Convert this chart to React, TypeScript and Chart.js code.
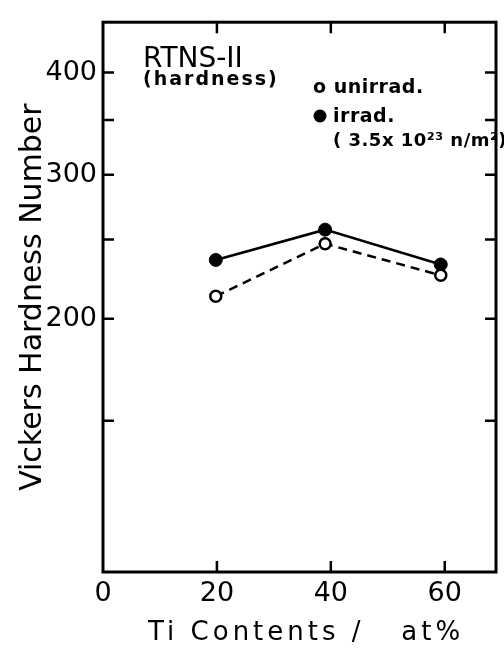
import { useEffect, useRef } from 'react';
import { Chart, registerables } from 'chart.js';

Chart.register(...registerables);

// Ti content (at%) of the samples
const xValues = [19.8, 39.0, 59.3];
// Vickers hardness, unirradiated (open circles)
const unirradiated = [213, 247, 226];
// Vickers hardness, irradiated 3.5x10^23 n/m^2 (filled circles)
const irradiated = [236, 257, 233];

const xTicks = [0, 20, 40, 60];
const yTicks = [150, 200, 250, 300, 350, 400];
const yLabelled = [200, 300, 400];

const X_MIN = 0;
const X_MAX = 69;
const Y_MIN = 98;
const Y_MAX = 461;

const FONT = "'DejaVu Sans', 'Noto Sans', sans-serif";

const framePlugin = {
  id: 'frame',
  beforeDatasetsDraw(chart: any) {
    const { ctx, chartArea: a, scales } = chart;
    ctx.save();
    ctx.strokeStyle = '#000';
    ctx.lineWidth = 3;
    ctx.strokeRect(a.left, a.top, a.right - a.left, a.bottom - a.top);
    ctx.lineWidth = 2.5;
    const len = 11;
    ctx.beginPath();
    for (const v of yTicks) {
      const y = scales.y.getPixelForValue(v);
      ctx.moveTo(a.left, y);
      ctx.lineTo(a.left + len, y);
      ctx.moveTo(a.right, y);
      ctx.lineTo(a.right - len, y);
    }
    for (const v of xTicks) {
      if (v === X_MIN) continue;
      const x = scales.x.getPixelForValue(v);
      ctx.moveTo(x, a.top);
      ctx.lineTo(x, a.top + len);
      ctx.moveTo(x, a.bottom);
      ctx.lineTo(x, a.bottom - len);
    }
    ctx.stroke();
    ctx.restore();
  },
  afterDraw(chart: any) {
    const { ctx } = chart;
    ctx.save();
    ctx.fillStyle = '#000';
    ctx.textAlign = 'left';
    ctx.textBaseline = 'alphabetic';

    // x-axis title
    ctx.font = `26px ${FONT}`;
    (ctx as any).letterSpacing = '4px';
    ctx.fillText('Ti Contents /   at%', 148, 640);

    // annotation
    (ctx as any).letterSpacing = '0px';
    ctx.font = `28px ${FONT}`;
    ctx.fillText('RTNS-II', 143, 67);
    ctx.font = `bold 19px ${FONT}`;
    (ctx as any).letterSpacing = '2px';
    ctx.fillText('(hardness)', 143, 85);
    (ctx as any).letterSpacing = '0.5px';
    ctx.fillText('o unirrad.', 313, 93);
    ctx.fillText('irrad.', 333, 122);
    ctx.font = `bold 18px ${FONT}`;
    ctx.fillText('( 3.5x 10²³ n/m²)', 333, 146);
    ctx.beginPath();
    ctx.arc(320, 116, 6.5, 0, Math.PI * 2);
    ctx.fill();
    ctx.restore();
  },
};

export default function App() {
  const ref = useRef<HTMLCanvasElement | null>(null);

  useEffect(() => {
    if (!ref.current) return;
    const chart = new Chart(ref.current, {
      type: 'line',
      data: {
        datasets: [
          {
            label: 'unirrad.',
            data: xValues.map((x, i) => ({ x, y: unirradiated[i] })),
            borderColor: '#000',
            borderWidth: 2.5,
            borderDash: [9, 6],
            pointRadius: 5.5,
            pointBackgroundColor: '#fff',
            pointBorderColor: '#000',
            pointBorderWidth: 2.5,
            tension: 0,
            fill: false,
          },
          {
            label: 'irrad. (3.5x10²³ n/m²)',
            data: xValues.map((x, i) => ({ x, y: irradiated[i] })),
            borderColor: '#000',
            borderWidth: 2.5,
            pointRadius: 6.5,
            pointBackgroundColor: '#000',
            pointBorderColor: '#000',
            pointBorderWidth: 1,
            tension: 0,
            fill: false,
          },
        ],
      },
      options: {
        animation: false,
        responsive: false,
        layout: { padding: { top: 11, right: 5, left: 0, bottom: 0 } },
        plugins: {
          legend: { display: false },
          tooltip: { enabled: false },
        },
        scales: {
          x: {
            type: 'linear',
            min: X_MIN,
            max: X_MAX,
            afterBuildTicks: (s: any) => {
              s.ticks = xTicks.map((v) => ({ value: v }));
            },
            afterFit: (s: any) => {
              s.height = 76;
            },
            grid: { display: false, drawTicks: false },
            border: { display: false },
            ticks: {
              color: '#000',
              font: { family: FONT, size: 27 },
              padding: 6,
              maxRotation: 0,
              autoSkip: false,
              callback: (v: any) => String(v),
            },
          },
          y: {
            type: 'logarithmic',
            min: Y_MIN,
            max: Y_MAX,
            afterBuildTicks: (s: any) => {
              s.ticks = yTicks.map((v) => ({ value: v }));
            },
            afterFit: (s: any) => {
              s.width = 103;
            },
            grid: { display: false, drawTicks: false },
            border: { display: false },
            ticks: {
              color: '#000',
              font: { family: FONT, size: 27 },
              padding: 6,
              autoSkip: false,
              callback: (v: any) => (yLabelled.includes(Number(v)) ? String(v) : ''),
            },
            title: {
              display: true,
              text: 'Vickers Hardness Number',
              color: '#000',
              font: { family: FONT, size: 30 },
              padding: { top: 15, bottom: 0 },
            },
          },
        },
      },
      plugins: [framePlugin],
    } as any);
    return () => chart.destroy();
  }, []);

  return (
    <div style={{ position: 'absolute', left: 0, top: 0, width: 504, height: 648, background: '#fff' }}>
      <canvas ref={ref} width={504} height={648} style={{ display: 'block' }} />
    </div>
  );
}
